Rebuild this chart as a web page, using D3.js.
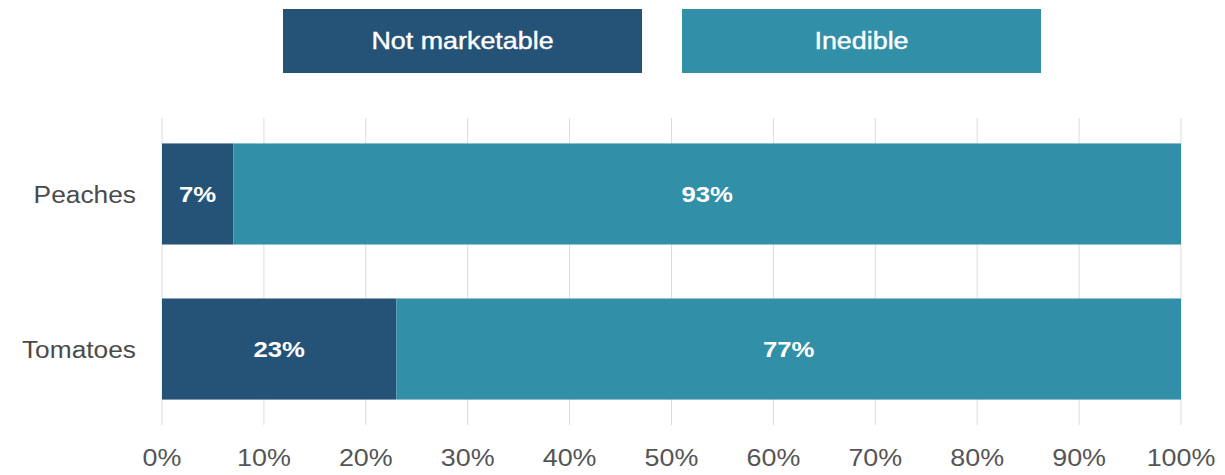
<!DOCTYPE html>
<html>
<head>
<meta charset="utf-8">
<script src="https://cdn.jsdelivr.net/npm/d3@7"></script>
<style>
  html, body { margin: 0; padding: 0; background: #fff; }
  svg { display: block; font-family: "Liberation Sans", Arial, sans-serif; }
</style>
</head>
<body>
<div id="chart"></div>
<script>
const categories = ["Peaches", "Tomatoes"];
const seriesNames = ["Not marketable", "Inedible"];
const notMarketable = [7, 23];
const inedible = [93, 77];
const tickValues = [0, 10, 20, 30, 40, 50, 60, 70, 80, 90, 100];

const colors = ["#245377", "#318fa8"];

const width = 1225, height = 475;
const margin = { top: 118, right: 44, bottom: 50, left: 162 };
const gridBottom = 425;
// the source text is a bit wider than its height suggests
const stretch = 1.12;

const svg = d3.select("#chart").append("svg")
  .attr("width", width)
  .attr("height", height);

const x = d3.scaleLinear().domain([0, 100]).range([margin.left, width - margin.right]);
const y = d3.scaleBand().domain(categories)
  .range([margin.top, gridBottom])
  .paddingInner(0.348)
  .paddingOuter(0.164);

const place = (px, py) => `translate(${px},${py}) scale(${stretch},1)`;

// gridlines
svg.append("g")
  .selectAll("line")
  .data(tickValues)
  .join("line")
  .attr("x1", d => x(d)).attr("x2", d => x(d))
  .attr("y1", margin.top).attr("y2", gridBottom)
  .attr("stroke", "#dcdcdc")
  .attr("stroke-width", 1);

// stacked bars
const rows = categories.map((c, i) => ({ cat: c, "Not marketable": notMarketable[i], "Inedible": inedible[i] }));
const stack = d3.stack().keys(seriesNames)(rows);

const layer = svg.append("g").selectAll("g")
  .data(stack)
  .join("g")
  .attr("fill", (d, i) => colors[i]);

layer.selectAll("rect")
  .data(d => d)
  .join("rect")
  .attr("x", d => x(d[0]))
  .attr("width", d => x(d[1]) - x(d[0]))
  .attr("y", d => y(d.data.cat))
  .attr("height", y.bandwidth());

layer.selectAll("text")
  .data(d => d)
  .join("text")
  .attr("transform", d => place((x(d[0]) + x(d[1])) / 2, y(d.data.cat) + y.bandwidth() / 2))
  .attr("dy", "0.35em")
  .attr("text-anchor", "middle")
  .attr("fill", "#fff")
  .attr("font-size", 23)
  .attr("font-weight", "bold")
  .text(d => (d[1] - d[0]) + "%");

// category labels
svg.append("g")
  .selectAll("text")
  .data(categories)
  .join("text")
  .attr("transform", d => place(136, y(d) + y.bandwidth() / 2 + 1))
  .attr("dy", "0.35em")
  .attr("text-anchor", "end")
  .attr("fill", "#4a4a4a")
  .attr("font-size", 23.5)
  .text(d => d);

// x axis labels
svg.append("g")
  .selectAll("text")
  .data(tickValues)
  .join("text")
  .attr("transform", d => place(x(d), 458))
  .attr("dy", "0.35em")
  .attr("text-anchor", "middle")
  .attr("fill", "#555")
  .attr("font-size", 24)
  .text(d => d + "%");

// legend
const legend = svg.append("g").selectAll("g")
  .data(seriesNames)
  .join("g")
  .attr("transform", (d, i) => `translate(${283 + i * 399},9)`);

legend.append("rect")
  .attr("width", 359)
  .attr("height", 64)
  .attr("fill", (d, i) => colors[i]);

legend.append("text")
  .attr("transform", place(359 / 2, 32))
  .attr("dy", "0.35em")
  .attr("text-anchor", "middle")
  .attr("fill", "#fff")
  .attr("stroke", "#fff")
  .attr("stroke-width", 0.4)
  .attr("font-size", 24)
  .text(d => d);
</script>
</body>
</html>
